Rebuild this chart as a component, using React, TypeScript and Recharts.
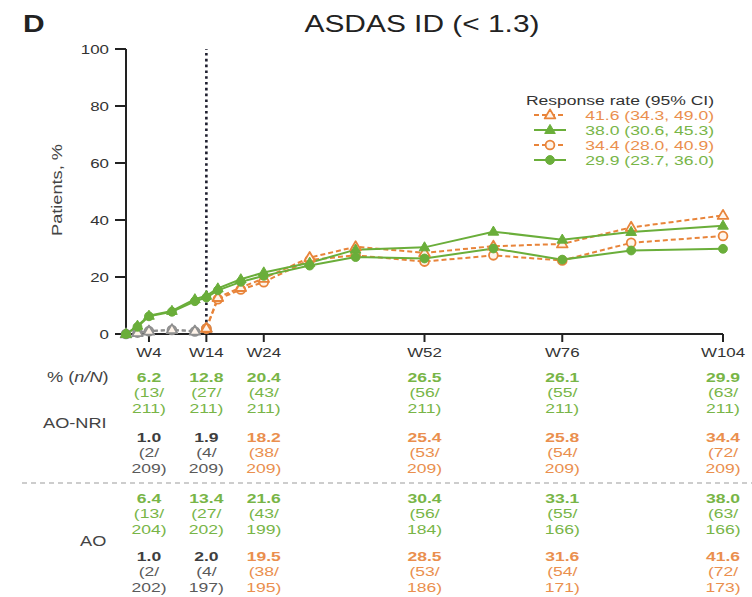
import React from 'react';
import { ComposedChart, Line, XAxis, YAxis, ReferenceLine, Legend } from 'recharts';

const FONT = '"Liberation Sans", Arial, Helvetica, sans-serif';
// horizontal stretch applied to all lettering
const SX = 1.3;

const GREEN = '#6AAE3A';
const ORANGE = '#E8843A';
const GREY = '#8F8F8F';
const GREEN_TXT = '#78B547';
const ORANGE_TXT = '#EA8F4E';
const DARK_TXT = '#4A4A4A';
const AXIS = '#222222';

// visit weeks
const weeks = [0, 2, 4, 8, 12, 14, 16, 20, 24, 32, 40, 52, 64, 76, 88, 104];
// upadacitinib arm, % responders
const nriUpa = [0, 2.5, 6.2, 7.8, 11.5, 12.8, 15.3, 18.3, 20.4, 24.0, 27.0, 26.5, 30.0, 26.1, 29.3, 29.9];
const aoUpa = [0, 2.9, 6.4, 8.1, 12.2, 13.4, 16.0, 19.2, 21.6, 25.0, 29.6, 30.4, 35.9, 33.1, 35.8, 38.0];
// placebo arm, blinded period (weeks 0-14)
const nriPboBlind = [0, 0.5, 1.0, 1.4, 0.9, 1.9];
const aoPboBlind = [0, 0.5, 1.0, 1.5, 1.0, 2.0];
// placebo arm after switch to upadacitinib (weeks 14-104)
const nriPboSwitch = [1.9, 12.2, 15.6, 18.2, 26.0, 27.6, 25.4, 27.6, 25.8, 32.0, 34.4];
const aoPboSwitch = [2.0, 12.8, 16.3, 19.5, 26.8, 30.6, 28.5, 30.8, 31.6, 37.4, 41.6];
const SWITCH_WEEK = 14;

// table under the axis
const tableWeeks = [4, 14, 24, 52, 76, 104];
const nriUpaRate = ['6.2', '12.8', '20.4', '26.5', '26.1', '29.9'];
const nriUpaN = [13, 27, 43, 56, 55, 63];
const nriUpaTotal = [211, 211, 211, 211, 211, 211];
const nriPboRate = ['1.0', '1.9', '18.2', '25.4', '25.8', '34.4'];
const nriPboN = [2, 4, 38, 53, 54, 72];
const nriPboTotal = [209, 209, 209, 209, 209, 209];
const aoUpaRate = ['6.4', '13.4', '21.6', '30.4', '33.1', '38.0'];
const aoUpaN = [13, 27, 43, 56, 55, 63];
const aoUpaTotal = [204, 202, 199, 184, 166, 166];
const aoPboRate = ['1.0', '2.0', '19.5', '28.5', '31.6', '41.6'];
const aoPboN = [2, 4, 38, 53, 54, 72];
const aoPboTotal = [202, 197, 195, 186, 171, 173];

const yTicks = [0, 20, 40, 60, 80, 100];

const legendTitle = 'Response rate (95% CI)';
const legendKeys = ['aoPboSwitch', 'aoUpa', 'nriPboSwitch', 'nriUpa'];
const legendLabels = ['41.6 (34.3, 49.0)', '38.0 (30.6, 45.3)', '34.4 (28.0, 40.9)', '29.9 (23.7, 36.0)'];

const switchIdx = weeks.indexOf(SWITCH_WEEK);
const chartData = weeks.map((w, i) => ({
  week: w,
  nriUpa: nriUpa[i],
  aoUpa: aoUpa[i],
  nriPboBlind: i < nriPboBlind.length ? nriPboBlind[i] : null,
  aoPboBlind: i < aoPboBlind.length ? aoPboBlind[i] : null,
  nriPboSwitch: i >= switchIdx ? nriPboSwitch[i - switchIdx] : null,
  aoPboSwitch: i >= switchIdx ? aoPboSwitch[i - switchIdx] : null,
}));

type Style = { color: string; dash?: string; shape: 'circle' | 'triangle'; open: boolean; text: string };
const seriesStyle: Record<string, Style> = {
  nriUpa: { color: GREEN, shape: 'circle', open: false, text: GREEN_TXT },
  aoUpa: { color: GREEN, shape: 'triangle', open: false, text: GREEN_TXT },
  nriPboSwitch: { color: ORANGE, dash: '5 3', shape: 'circle', open: true, text: ORANGE_TXT },
  aoPboSwitch: { color: ORANGE, dash: '5 3', shape: 'triangle', open: true, text: ORANGE_TXT },
  nriPboBlind: { color: GREY, dash: '4 3', shape: 'circle', open: true, text: DARK_TXT },
  aoPboBlind: { color: GREY, dash: '4 3', shape: 'triangle', open: true, text: DARK_TXT },
};

function StretchText(props: {
  x: number; y: number; size: number; fill: string; anchor?: string; weight?: string | number;
  children: React.ReactNode; rotate?: number;
}) {
  const { x, y, size, fill, anchor = 'middle', weight = 'normal', children, rotate = 0 } = props;
  return (
    <text
      transform={`translate(${x},${y}) rotate(${rotate}) scale(${SX},1)`}
      textAnchor={anchor}
      dominantBaseline="central"
      fontSize={size}
      fill={fill}
      fontFamily={FONT}
      fontWeight={weight}
    >
      {children}
    </text>
  );
}

function Marker({ cx, cy, st }: { cx: number; cy: number; st: Style }) {
  const fill = st.open ? '#FFF4EA' : st.color;
  const sw = st.open ? 1.8 : 1;
  if (st.shape === 'circle') {
    return <circle cx={cx} cy={cy} r={4.4} fill={fill} stroke={st.color} strokeWidth={sw} />;
  }
  const s = 5.6;
  const pts = `${cx},${cy - s} ${cx + s * 0.95},${cy + s * 0.62} ${cx - s * 0.95},${cy + s * 0.62}`;
  return <polygon points={pts} fill={fill} stroke={st.color} strokeWidth={sw} strokeLinejoin="round" />;
}

const makeDot = (key: string) => (p: any) => {
  const k = `${key}-${p.index}`;
  if (p.cx == null || p.cy == null || p.value == null) return <g key={k} />;
  return <Marker key={k} cx={p.cx} cy={p.cy} st={seriesStyle[key]} />;
};

const X_TICK_SIZE = 8;
const X_TICK_MARGIN = 2;
const LINE_GAP = 15.5;
// vertical offsets of the four table blocks, measured from the x axis line
const blockOffsets = [43, 103, 164, 222];

function WeekTick(props: any) {
  const { x, y, payload } = props;
  const axisY = y - X_TICK_SIZE - X_TICK_MARGIN;
  const col = tableWeeks.indexOf(payload.value);
  const blinded = payload.value <= SWITCH_WEEK;
  const blocks = [
    { rate: nriUpaRate, n: nriUpaN, tot: nriUpaTotal, color: GREEN_TXT, strong: GREEN_TXT },
    { rate: nriPboRate, n: nriPboN, tot: nriPboTotal, color: blinded ? '#5A5A5A' : ORANGE_TXT, strong: blinded ? '#3E3E3E' : ORANGE_TXT },
    { rate: aoUpaRate, n: aoUpaN, tot: aoUpaTotal, color: GREEN_TXT, strong: GREEN_TXT },
    { rate: aoPboRate, n: aoPboN, tot: aoPboTotal, color: blinded ? '#5A5A5A' : ORANGE_TXT, strong: blinded ? '#3E3E3E' : ORANGE_TXT },
  ];
  return (
    <g>
      <StretchText x={x} y={axisY + 18} size={13} fill="#333">{`W${payload.value}`}</StretchText>
      {col >= 0 &&
        blocks.map((b, bi) => {
          const top = axisY + blockOffsets[bi];
          return (
            <g key={bi}>
              <StretchText x={x} y={top} size={13.5} fill={b.strong} weight="bold">{b.rate[col]}</StretchText>
              <StretchText x={x} y={top + LINE_GAP} size={13.5} fill={b.color}>{`(${b.n[col]}/`}</StretchText>
              <StretchText x={x} y={top + 2 * LINE_GAP} size={13.5} fill={b.color}>{`${b.tot[col]})`}</StretchText>
            </g>
          );
        })}
    </g>
  );
}

function ValueTick(props: any) {
  const { x, y, payload } = props;
  return <StretchText x={x} y={y} size={13} fill="#333" anchor="end">{String(payload.value)}</StretchText>;
}

function LegendBox() {
  const right = 714;
  const rows0 = 100;
  const rowGap = 15;
  return (
    <svg width={752} height={80} style={{ overflow: 'visible', display: 'block' }}>
      <g transform="translate(0,-88)">
        <StretchText x={right} y={rows0} size={13.5} fill="#333" anchor="end">{legendTitle}</StretchText>
        {legendKeys.map((k, i) => {
          const st = seriesStyle[k];
          const cy = rows0 + rowGap * (i + 1);
          return (
            <g key={k}>
              <line x1={534} x2={566} y1={cy} y2={cy} stroke={st.color} strokeWidth={2} strokeDasharray={st.dash} />
              <Marker cx={550} cy={cy} st={st} />
              <StretchText x={right} y={cy} size={13.5} fill={st.text} anchor="end">{legendLabels[i]}</StretchText>
            </g>
          );
        })}
      </g>
    </svg>
  );
}

const drawOrder = ['nriPboBlind', 'aoPboBlind', 'nriPboSwitch', 'aoPboSwitch', 'nriUpa', 'aoUpa'];

export default function App() {
  return (
    <div style={{ position: 'absolute', left: 0, top: 0, width: 752, height: 597, background: '#fff' }}>
      <ComposedChart
        width={752}
        height={597}
        data={chartData}
        margin={{ top: 49, right: 29, bottom: 233, left: 66 }}
      >
        <XAxis
          dataKey="week"
          type="number"
          domain={[0, 104]}
          ticks={tableWeeks}
          interval={0}
          height={30}
          tickSize={X_TICK_SIZE}
          tickMargin={X_TICK_MARGIN}
          axisLine={{ stroke: AXIS, strokeWidth: 2 }}
          tickLine={{ stroke: AXIS, strokeWidth: 2 }}
          tick={<WeekTick />}
        />
        <YAxis
          type="number"
          domain={[0, 100]}
          ticks={yTicks}
          interval={0}
          width={60}
          tickSize={11}
          tickMargin={6}
          axisLine={{ stroke: AXIS, strokeWidth: 2 }}
          tickLine={{ stroke: AXIS, strokeWidth: 2 }}
          tick={<ValueTick />}
        />
        <ReferenceLine x={SWITCH_WEEK} stroke="#1E1E2E" strokeWidth={2.6} strokeDasharray="2.6 3.2" />
        {drawOrder.map((k) => {
          const st = seriesStyle[k];
          return (
            <Line
              key={k}
              dataKey={k}
              type="linear"
              stroke={st.color}
              strokeWidth={2}
              strokeDasharray={st.dash}
              dot={makeDot(k)}
              activeDot={false}
              connectNulls={false}
              isAnimationActive={false}
            />
          );
        })}
        <Legend
          layout="horizontal"
          verticalAlign="middle"
          align="center"
          wrapperStyle={{ left: 0, top: 88, width: 752, height: 80 }}
          content={() => <LegendBox />}
        />
      </ComposedChart>
      <svg
        width={752}
        height={597}
        style={{ position: 'absolute', left: 0, top: 0, pointerEvents: 'none' }}
      >
        <StretchText x={23} y={24} size={23} fill="#222" anchor="start" weight="bold">D</StretchText>
        <StretchText x={422} y={24} size={23} fill="#222">ASDAS ID (&lt; 1.3)</StretchText>
        <StretchText x={57} y={190} size={14} fill="#444" rotate={-90}>Patients, %</StretchText>
        <text
          transform={`translate(47,377) scale(${SX},1)`}
          dominantBaseline="central"
          fontSize={14}
          fill="#444"
          fontFamily={FONT}
        >
          % (<tspan fontStyle="italic">n/N</tspan>)
        </text>
        <StretchText x={43} y={423} size={14} fill="#444" anchor="start">AO-NRI</StretchText>
        <StretchText x={80} y={541} size={14} fill="#444" anchor="start">AO</StretchText>
        <line x1={22} x2={752} y1={483} y2={483} stroke="#9C9C9C" strokeWidth={1.2} strokeDasharray="5 4" />
      </svg>
    </div>
  );
}
